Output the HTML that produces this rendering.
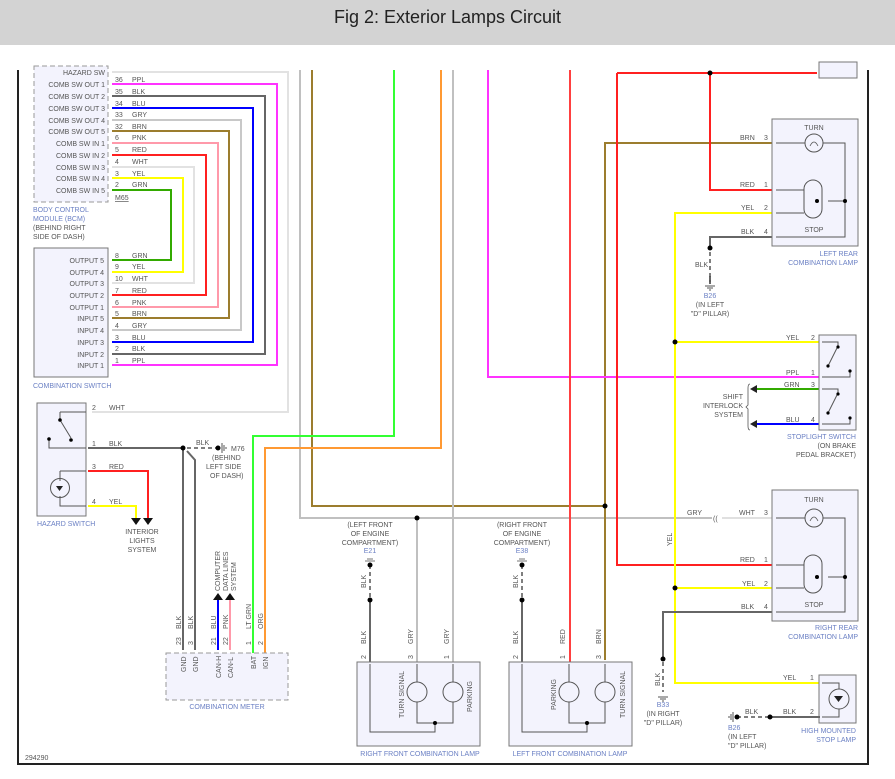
<!DOCTYPE html>
<html><head><meta charset="utf-8"><style>
html,body{margin:0;padding:0;background:#fff}
body{width:895px;height:779px;overflow:hidden;position:relative;font-family:"Liberation Sans",sans-serif}
.hdr{position:absolute;left:0;top:0;width:895px;height:45px;background:#d3d3d3;text-align:center;font:18px/34px "Liberation Sans Narrow","Liberation Sans",sans-serif;color:#222}
svg{position:absolute;left:0;top:0}
text{font-family:"Liberation Sans",sans-serif;font-size:7px;fill:#555}
.b{fill:#6b80c4}
.w{fill:none;stroke-width:2}
</style></head><body>
<div class="hdr">Fig 2: Exterior Lamps Circuit</div>
<svg width="895" height="779" viewBox="0 0 895 779">
<path d="M18,70 V764 H868 V70" fill="none" stroke="#222" stroke-width="2"/>

<g class="w">
<path d="M112,72 H288 V412 H92" stroke="#e2e2e2"/>
<path d="M112,84 H277 V365 H112" stroke="#ff33ff"/>
<path d="M112,96 H265 V354 H112" stroke="#666"/>
<path d="M112,108 H253 V342 H112" stroke="#0000ff"/>
<path d="M112,120 H241 V330 H112" stroke="#c8c8c8"/>
<path d="M112,131 H229 V318 H112" stroke="#9c7d2e"/>
<path d="M112,143 H218 V307 H112" stroke="#ff99aa"/>
<path d="M112,155 H206 V295 H112" stroke="#ff2020"/>
<path d="M112,167 H194 V283 H112" stroke="#e2e2e2"/>
<path d="M112,178 H183 V272 H112" stroke="#ffff00"/>
<path d="M112,190 H171 V260 H112" stroke="#33aa00"/>
</g>
<rect x="34" y="66" width="74" height="136" fill="#f3f3fd" stroke="#999" stroke-dasharray="5,3"/>
<g text-anchor="end">
<text x="105" y="75">HAZARD SW</text><text x="105" y="87">COMB SW OUT 1</text><text x="105" y="99">COMB SW OUT 2</text><text x="105" y="111">COMB SW OUT 3</text><text x="105" y="123">COMB SW OUT 4</text><text x="105" y="134">COMB SW OUT 5</text><text x="105" y="146">COMB SW IN 1</text><text x="105" y="158">COMB SW IN 2</text><text x="105" y="170">COMB SW IN 3</text><text x="105" y="181">COMB SW IN 4</text><text x="105" y="193">COMB SW IN 5</text>
</g>
<g>
<text x="115" y="82">36</text><text x="132" y="82">PPL</text>
<text x="115" y="94">35</text><text x="132" y="94">BLK</text>
<text x="115" y="106">34</text><text x="132" y="106">BLU</text>
<text x="115" y="117">33</text><text x="132" y="117">GRY</text>
<text x="115" y="129">32</text><text x="132" y="129">BRN</text>
<text x="115" y="140">6</text><text x="132" y="140">PNK</text>
<text x="115" y="152">5</text><text x="132" y="152">RED</text>
<text x="115" y="164">4</text><text x="132" y="164">WHT</text>
<text x="115" y="176">3</text><text x="132" y="176">YEL</text>
<text x="115" y="187">2</text><text x="132" y="187">GRN</text>
<text x="115" y="200" text-decoration="underline">M65</text>
</g>
<text x="33" y="212" class="b">BODY CONTROL</text><text x="33" y="221" class="b">MODULE (BCM)</text>
<text x="33" y="230">(BEHIND RIGHT</text><text x="33" y="239">SIDE OF DASH)</text>

<rect x="34" y="248" width="74" height="129" fill="#f3f3fd" stroke="#777"/>
<g text-anchor="end">
<text x="104" y="263">OUTPUT 5</text><text x="104" y="275">OUTPUT 4</text><text x="104" y="286">OUTPUT 3</text><text x="104" y="298">OUTPUT 2</text><text x="104" y="310">OUTPUT 1</text><text x="104" y="321">INPUT 5</text><text x="104" y="333">INPUT 4</text><text x="104" y="345">INPUT 3</text><text x="104" y="357">INPUT 2</text><text x="104" y="368">INPUT 1</text>
</g>
<g>
<text x="115" y="258">8</text><text x="132" y="258">GRN</text>
<text x="115" y="269">9</text><text x="132" y="269">YEL</text>
<text x="115" y="281">10</text><text x="132" y="281">WHT</text>
<text x="115" y="293">7</text><text x="132" y="293">RED</text>
<text x="115" y="305">6</text><text x="132" y="305">PNK</text>
<text x="115" y="316">5</text><text x="132" y="316">BRN</text>
<text x="115" y="328">4</text><text x="132" y="328">GRY</text>
<text x="115" y="340">3</text><text x="132" y="340">BLU</text>
<text x="115" y="351">2</text><text x="132" y="351">BLK</text>
<text x="115" y="363">1</text><text x="132" y="363">PPL</text>
</g>
<text x="33" y="388" class="b">COMBINATION SWITCH</text>

<g class="w">
<path d="M300,70 V518 H712" stroke="#c0c0c0"/>
<path d="M722,518 H772" stroke="#e0e0e0"/>
<path d="M312,70 V506 H605" stroke="#9c7d2e"/>
<path d="M605,660 V143 H772" stroke="#9c7d2e"/>
<path d="M394,70 V436 H253 V662" stroke="#33ff33"/>
<path d="M441,70 V448 H265 V662" stroke="#ff9933"/>
<path d="M453,70 V662" stroke="#c0c0c0"/>
<path d="M417,518 V662" stroke="#c0c0c0"/>
<path d="M488,70 V377 H820" stroke="#ff33ff"/>
<path d="M570,70 V662" stroke="#ff4040"/>
<path d="M617,73 H817 M617,73 V565 H772" stroke="#ff2020"/>
<path d="M710,73 V190 H772" stroke="#ff2020"/>
<path d="M772,213 H675 V683 H820 M675,342 H820 M675,588 H772" stroke="#ffff00"/>
<path d="M772,237 H710 V248 M710,284 V276" stroke="#666"/>
<path d="M772,612 H663 V659" stroke="#666"/>
<path d="M754,389 H820" stroke="#33aa00"/>
<path d="M754,424 H820" stroke="#0000ff"/>
</g>
<g fill="#000"><circle cx="417" cy="518" r="2.5"/><circle cx="605" cy="506" r="2.5"/><circle cx="710" cy="73" r="2.5"/><circle cx="675" cy="342" r="2.5"/><circle cx="675" cy="588" r="2.5"/><circle cx="710" cy="248" r="2.5"/><circle cx="663" cy="659" r="2.5"/></g>
<path d="M710,252 V282 M663,662 V692" stroke="#555" stroke-width="1.5" stroke-dasharray="4,3"/>
<path d="M705,286 H715 M707,288 H713 M709,290 H711 M658,697 H668 M660,699 H666 M662,701 H664" stroke="#555"/>
<text x="695" y="267">BLK</text>
<text x="710" y="298" text-anchor="middle" class="b">B26</text><text x="710" y="307" text-anchor="middle">(IN LEFT</text><text x="710" y="316" text-anchor="middle">"D" PILLAR)</text>
<text x="663" y="707" text-anchor="middle" class="b">B33</text><text x="663" y="716" text-anchor="middle">(IN RIGHT</text><text x="663" y="725" text-anchor="middle">"D" PILLAR)</text>
<text transform="translate(660,686) rotate(-90)">BLK</text>
<text transform="translate(672,546) rotate(-90)">YEL</text>

<rect x="819" y="62" width="38" height="16" fill="#f3f3fd" stroke="#777"/>

<rect x="772" y="119" width="86" height="127" fill="#f3f3fd" stroke="#777"/>
<text x="814" y="130" text-anchor="middle">TURN</text>
<circle cx="814" cy="143" r="9" fill="none" stroke="#555"/>
<path d="M810,146 q4,-8 8,0" fill="none" stroke="#555" stroke-width=".8"/>
<path d="M776,143 H805 M823,143 H845 V237 H776 M776,190 H804 M776,213 H804 M828,201 H845" stroke="#555" fill="none"/>
<rect x="804" y="180" width="18" height="38" rx="9" fill="none" stroke="#555"/>
<circle cx="845" cy="201" r="2" fill="#000"/><circle cx="817" cy="201" r="2" fill="#000"/>
<text x="814" y="232" text-anchor="middle">STOP</text>
<text x="740" y="140">BRN</text><text x="764" y="140">3</text>
<text x="740" y="187">RED</text><text x="764" y="187">1</text>
<text x="741" y="210">YEL</text><text x="764" y="210">2</text>
<text x="741" y="234">BLK</text><text x="764" y="234">4</text>
<text x="858" y="256" text-anchor="end" class="b">LEFT REAR</text><text x="858" y="265" text-anchor="end" class="b">COMBINATION LAMP</text>

<rect x="819" y="335" width="37" height="95" fill="#f3f3fd" stroke="#777"/>
<path d="M822,342 H838 V346 L828,366 M822,377 H850 V371 M822,389 H838 V393 L828,413 M822,424 H850 V418" stroke="#555" fill="none"/>
<g fill="#000"><circle cx="838" cy="347" r="1.6"/><circle cx="828" cy="366" r="1.6"/><circle cx="850" cy="371" r="1.6"/><circle cx="838" cy="394" r="1.6"/><circle cx="828" cy="413" r="1.6"/><circle cx="850" cy="418" r="1.6"/></g>
<text x="786" y="340">YEL</text><text x="811" y="340">2</text>
<text x="786" y="375">PPL</text><text x="811" y="375">1</text>
<text x="784" y="387">GRN</text><text x="811" y="387">3</text>
<text x="786" y="422">BLU</text><text x="811" y="422">4</text>
<path d="M750,389 l7,-4 v8z M750,424 l7,-4 v8z" fill="#222"/>
<path d="M750,384 q-2,0 -2,4 v17 l-2,2 l2,2 v17 q0,4 2,4" fill="none" stroke="#555" stroke-width=".8"/>
<g text-anchor="end"><text x="743" y="399">SHIFT</text><text x="743" y="408">INTERLOCK</text><text x="743" y="417">SYSTEM</text></g>
<g text-anchor="end"><text x="856" y="439" class="b">STOPLIGHT SWITCH</text><text x="856" y="448">(ON BRAKE</text><text x="856" y="457">PEDAL BRACKET)</text></g>

<rect x="772" y="490" width="86" height="131" fill="#f3f3fd" stroke="#777"/>
<text x="814" y="502" text-anchor="middle">TURN</text>
<circle cx="814" cy="518" r="9" fill="none" stroke="#555"/>
<path d="M810,521 q4,-8 8,0" fill="none" stroke="#555" stroke-width=".8"/>
<path d="M776,518 H805 M823,518 H845 V612 H776 M776,565 H804 M776,588 H804 M828,577 H845" stroke="#555" fill="none"/>
<rect x="804" y="555" width="18" height="38" rx="9" fill="none" stroke="#555"/>
<circle cx="845" cy="577" r="2" fill="#000"/><circle cx="817" cy="577" r="2" fill="#000"/>
<text x="814" y="607" text-anchor="middle">STOP</text>
<text x="687" y="515">GRY</text><text x="713" y="521" font-size="9">((</text><text x="739" y="515">WHT</text><text x="764" y="515">3</text>
<text x="740" y="562">RED</text><text x="764" y="562">1</text>
<text x="742" y="586">YEL</text><text x="764" y="586">2</text>
<text x="741" y="609">BLK</text><text x="764" y="609">4</text>
<text x="858" y="630" text-anchor="end" class="b">RIGHT REAR</text><text x="858" y="639" text-anchor="end" class="b">COMBINATION LAMP</text>

<rect x="819" y="675" width="37" height="48" fill="#f3f3fd" stroke="#777"/>
<circle cx="839" cy="699" r="10" fill="none" stroke="#555"/>
<path d="M822,683 H839 V689 M839,709 V717 H822" stroke="#555" fill="none"/>
<path d="M834,696 h9 l-4.5,6z" fill="#222"/>
<text x="783" y="680">YEL</text><text x="810" y="680">1</text>
<text x="783" y="714">BLK</text><text x="810" y="714">2</text>
<path d="M770,717 H820" stroke="#666" stroke-width="2"/>
<path d="M737,717 H768" stroke="#555" stroke-width="1.5" stroke-dasharray="4,3"/>
<circle cx="770" cy="717" r="2.5"/><circle cx="737" cy="717" r="2.5"/>
<path d="M733,712 V722 M731,714 V720 M729,716 V718" stroke="#555"/>
<text x="745" y="714">BLK</text>
<text x="728" y="730" class="b">B26</text><text x="728" y="739">(IN LEFT</text><text x="728" y="748">"D" PILLAR)</text>
<g text-anchor="end"><text x="856" y="733" class="b">HIGH MOUNTED</text><text x="856" y="742" class="b">STOP LAMP</text></g>

<g class="w" stroke="#666"><path d="M370,600 V662 M522,600 V662"/></g>
<path d="M370,565 V598 M522,565 V598" stroke="#555" stroke-width="1.5" stroke-dasharray="4,3"/>
<g fill="#000"><circle cx="370" cy="600" r="2.5"/><circle cx="370" cy="565" r="2.5"/><circle cx="522" cy="600" r="2.5"/><circle cx="522" cy="565" r="2.5"/></g>
<path d="M365,561 H375 M367,559 H373 M517,561 H527 M519,559 H525" stroke="#777"/>
<g text-anchor="middle">
<text x="370" y="527">(LEFT FRONT</text><text x="370" y="536">OF ENGINE</text><text x="370" y="545">COMPARTMENT)</text><text x="370" y="553" class="b">E21</text>
<text x="522" y="527">(RIGHT FRONT</text><text x="522" y="536">OF ENGINE</text><text x="522" y="545">COMPARTMENT)</text><text x="522" y="553" class="b">E38</text>
</g>
<text transform="translate(366,588) rotate(-90)">BLK</text>
<text transform="translate(518,588) rotate(-90)">BLK</text>
<g>
<text transform="translate(366,644) rotate(-90)">BLK</text><text transform="translate(413,644) rotate(-90)">GRY</text><text transform="translate(449,644) rotate(-90)">GRY</text>
<text transform="translate(366,659) rotate(-90)">2</text><text transform="translate(413,659) rotate(-90)">3</text><text transform="translate(449,659) rotate(-90)">1</text>
<text transform="translate(518,644) rotate(-90)">BLK</text><text transform="translate(565,644) rotate(-90)">RED</text><text transform="translate(601,644) rotate(-90)">BRN</text>
<text transform="translate(518,659) rotate(-90)">2</text><text transform="translate(565,659) rotate(-90)">1</text><text transform="translate(601,659) rotate(-90)">3</text>
</g>
<rect x="357" y="662" width="123" height="84" fill="#f3f3fd" stroke="#777"/>
<path d="M370,664 V732 H435 V723 M417,664 V682 M417,702 V723 H453 V702 M453,664 V682" stroke="#555" fill="none"/>
<circle cx="417" cy="692" r="10" fill="none" stroke="#555"/><circle cx="453" cy="692" r="10" fill="none" stroke="#555"/>
<circle cx="435" cy="723" r="2" fill="#000"/>
<text transform="translate(404,718) rotate(-90)">TURN SIGNAL</text>
<text transform="translate(472,712) rotate(-90)">PARKING</text>
<text x="420" y="756" text-anchor="middle" class="b">RIGHT FRONT COMBINATION LAMP</text>
<rect x="509" y="662" width="123" height="84" fill="#f3f3fd" stroke="#777"/>
<path d="M522,664 V732 H587 V723 M569,664 V682 M569,702 V723 H605 V702 M605,664 V682" stroke="#555" fill="none"/>
<circle cx="569" cy="692" r="10" fill="none" stroke="#555"/><circle cx="605" cy="692" r="10" fill="none" stroke="#555"/>
<circle cx="587" cy="723" r="2" fill="#000"/>
<text transform="translate(556,710) rotate(-90)">PARKING</text>
<text transform="translate(625,718) rotate(-90)">TURN SIGNAL</text>
<text x="570" y="756" text-anchor="middle" class="b">LEFT FRONT COMBINATION LAMP</text>

<rect x="37" y="403" width="49" height="113" fill="#f3f3fd" stroke="#777"/>
<path d="M60,412 H86 M60,412 V420 L71,438 M49,439 V448 H86 M60,471 V481 M60,496 V506 H86 M60,471 H86" stroke="#555" fill="none"/>
<circle cx="60" cy="420" r="1.8"/><circle cx="71" cy="440" r="1.8"/><circle cx="49" cy="439" r="1.8"/>
<circle cx="60" cy="488" r="9.5" fill="none" stroke="#555"/>
<path d="M56,486 h7 l-3.5,5z" fill="#222"/>
<text x="92" y="410">2</text><text x="109" y="410">WHT</text>
<text x="92" y="446">1</text><text x="109" y="446">BLK</text>
<text x="92" y="469">3</text><text x="109" y="469">RED</text>
<text x="92" y="504">4</text><text x="109" y="504">YEL</text>
<text x="37" y="526" class="b">HAZARD SWITCH</text>
<g class="w">
<path d="M88,448 H183 V650" stroke="#666"/>
<path d="M187,451 L195,460 V650" stroke="#666"/>
<path d="M88,471 H148 V518" stroke="#ff2020"/>
<path d="M88,506 H136 V518" stroke="#ffff00"/>
<path d="M218,650 V600" stroke="#0000ff"/>
<path d="M230,650 V600" stroke="#ff99aa"/>
</g>
<path d="M187,448 H216" stroke="#555" stroke-width="1.5" stroke-dasharray="4,3"/>
<circle cx="183" cy="448" r="2.5"/><circle cx="218" cy="448" r="2.5"/>
<path d="M222,443 V453 M224,445 V451 M226,447 V449" stroke="#555"/>
<text x="196" y="445">BLK</text>
<text x="231" y="451">M76</text><text x="212" y="460">(BEHIND</text><text x="206" y="469">LEFT SIDE</text><text x="210" y="478">OF DASH)</text>
<path d="M131,518 h10 l-5,7z M143,518 h10 l-5,7z M213,600 h10 l-5,-7z M225,600 h10 l-5,-7z" fill="#111"/>
<g text-anchor="middle"><text x="142" y="534">INTERIOR</text><text x="142" y="543">LIGHTS</text><text x="142" y="552">SYSTEM</text></g>
<text transform="translate(220,591) rotate(-90)">COMPUTER</text>
<text transform="translate(228,591) rotate(-90)">DATA LINES</text>
<text transform="translate(236,591) rotate(-90)">SYSTEM</text>
<rect x="166" y="653" width="122" height="47" fill="#f3f3fd" stroke="#999" stroke-dasharray="5,3"/>
<g>
<text transform="translate(181,629) rotate(-90)">BLK</text><text transform="translate(193,629) rotate(-90)">BLK</text><text transform="translate(216,629) rotate(-90)">BLU</text><text transform="translate(228,629) rotate(-90)">PNK</text><text transform="translate(251,629) rotate(-90)">LT GRN</text><text transform="translate(263,629) rotate(-90)">ORG</text>
<text transform="translate(181,645) rotate(-90)">23</text><text transform="translate(193,645) rotate(-90)">3</text><text transform="translate(216,645) rotate(-90)">21</text><text transform="translate(228,645) rotate(-90)">22</text><text transform="translate(251,645) rotate(-90)">1</text><text transform="translate(263,645) rotate(-90)">2</text>
<text transform="translate(186,672) rotate(-90)">GND</text><text transform="translate(198,672) rotate(-90)">GND</text><text transform="translate(221,678) rotate(-90)">CAN-H</text><text transform="translate(233,678) rotate(-90)">CAN-L</text><text transform="translate(256,669) rotate(-90)">BAT</text><text transform="translate(268,669) rotate(-90)">IGN</text>
</g>
<text x="227" y="709" text-anchor="middle" class="b">COMBINATION METER</text>
<text x="25" y="760">294290</text>
</svg>
</body></html>
